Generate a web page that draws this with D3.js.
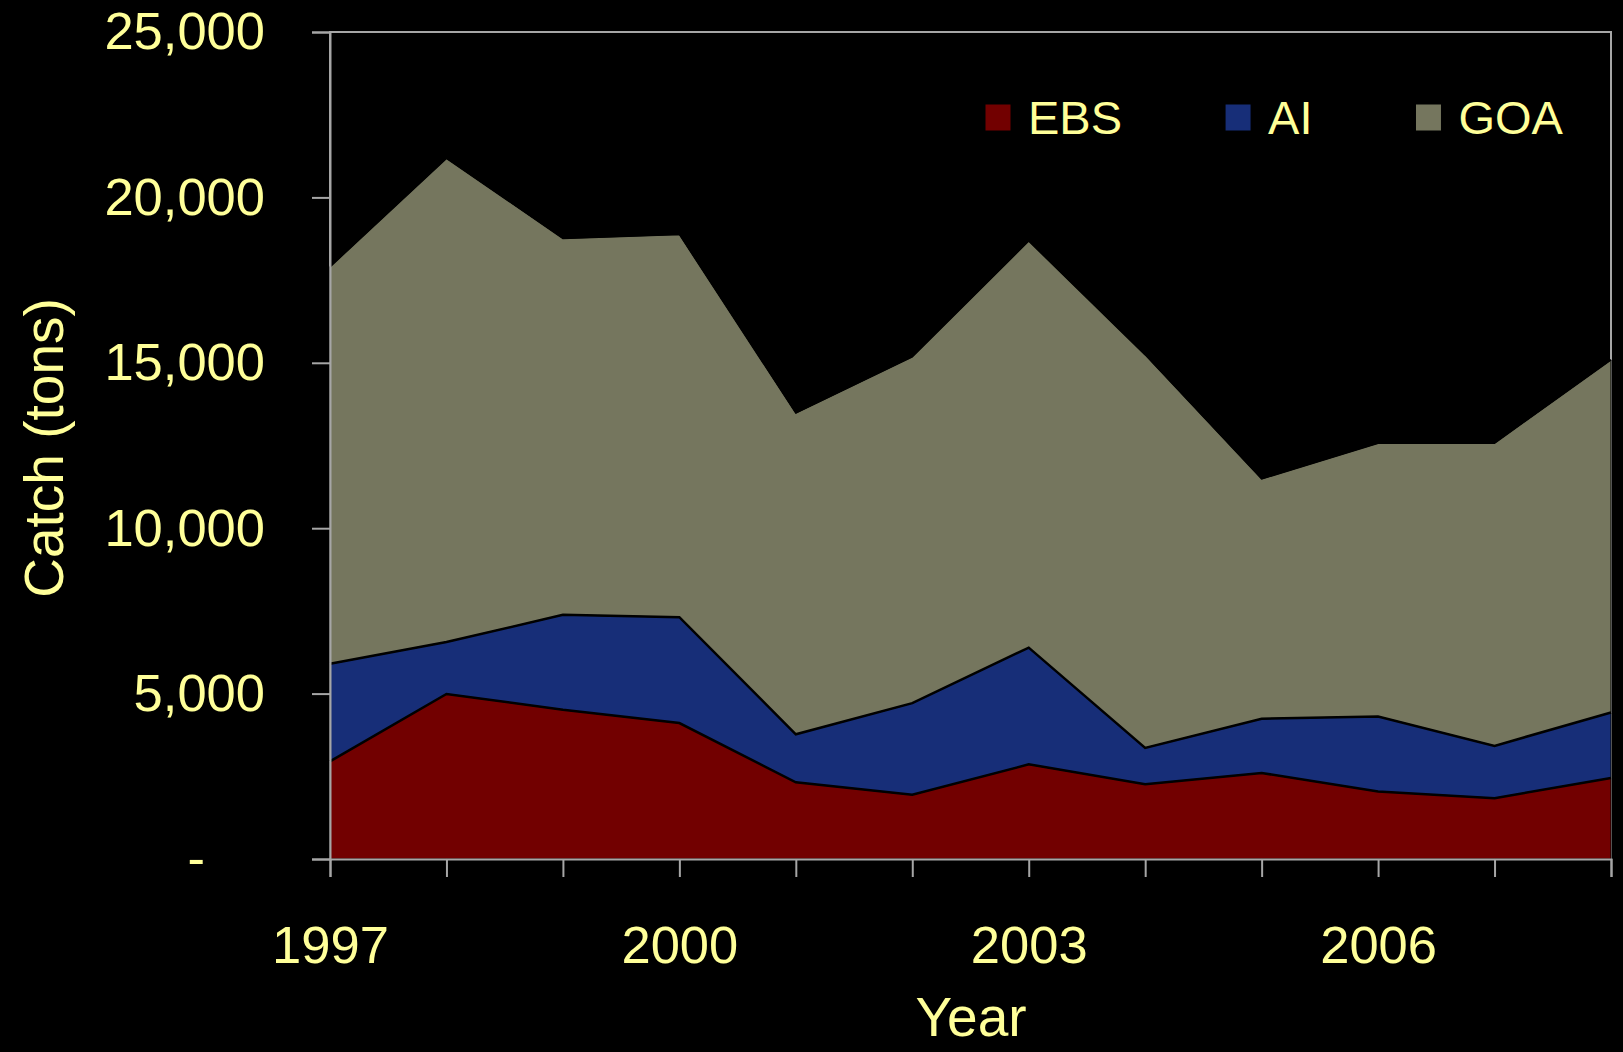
<!DOCTYPE html>
<html>
<head>
<meta charset="utf-8">
<script src="https://cdn.jsdelivr.net/npm/d3@7"></script>
<style>
  body { margin: 0; background: #000; }
  text { font-family: "Liberation Sans", Arial, sans-serif; fill: #ffff99; }
</style>
</head>
<body>
<div class="chart"></div>
<script>
// catch by region, tons
var years = [1997, 1998, 1999, 2000, 2001, 2002, 2003, 2004, 2005, 2006, 2007, 2008];
var ebs = [2950, 4990, 4510, 4110, 2320, 1940, 2860, 2260, 2600, 2040, 1840, 2450];
var ai  = [2950, 1570, 2870, 3200, 1450, 2770, 3530, 1100, 1640, 2270, 1580, 1980];
var goa = [12000, 14620, 11380, 11570, 9710, 10470, 12290, 11880, 7250, 8260, 9150, 10660];
var seriesNames = ["EBS", "AI", "GOA"];
var yTicks = [0, 5000, 10000, 15000, 20000, 25000];
var yearLabels = [1997, 2000, 2003, 2006];

var colors = {EBS: "#720000", AI: "#172e78", GOA: "#75765e"};

var w = 1623, h = 1052;
// plot box (window.top is reserved, so no plain "top" here)
var pLeft = 330, pRight = 1611, pTop = 32, pBottom = 859;

var svg = d3.select(".chart").append("svg")
    .attr("width", w)
    .attr("height", h);

svg.append("rect").attr("width", w).attr("height", h).attr("fill", "#000");

var x = d3.scaleLinear().domain([1997, 2008]).range([pLeft, pRight]);
var y = d3.scaleLinear().domain([0, 25000]).range([pBottom, pTop]);

var table = years.map(function(yr, i){
    return {year: yr, EBS: ebs[i], AI: ai[i], GOA: goa[i]};
});
var stacked = d3.stack().keys(seriesNames)(table);

// plot border
svg.append("rect")
    .attr("x", pLeft).attr("y", pTop)
    .attr("width", pRight - pLeft).attr("height", pBottom - pTop)
    .attr("fill", "none")
    .attr("stroke", "#a6a6a6")
    .attr("stroke-width", 2);

var area = d3.area()
    .x(function(d){ return x(d.data.year); })
    .y0(function(d){ return y(d[0]); })
    .y1(function(d){ return y(d[1]); });

svg.selectAll(".layer")
    .data(stacked)
    .enter()
    .append("path")
    .attr("class", "layer")
    .attr("d", area)
    .attr("fill", function(d){ return colors[d.key]; })
    .attr("stroke", "#000")
    .attr("stroke-width", 1);

var topLine = d3.line()
    .x(function(d){ return x(d.data.year); })
    .y(function(d){ return y(d[1]); });

svg.selectAll(".edge")
    .data(stacked)
    .enter()
    .append("path")
    .attr("class", "edge")
    .attr("d", topLine)
    .attr("fill", "none")
    .attr("stroke", "#000")
    .attr("stroke-width", function(d){ return d.key == "GOA" ? 1.5 : 2.5; });

// axes
var yAxis = d3.axisLeft(y)
    .tickValues(yTicks)
    .tickSize(18)
    .tickPadding(47)
    .tickFormat(function(d){ return d === 0 ? "-" : d3.format(",")(d); });

var gy = svg.append("g")
    .attr("transform", `translate(${pLeft},0)`)
    .call(yAxis);

var xAxis = d3.axisBottom(x)
    .tickValues(years)
    .tickSize(18)
    .tickPadding(49)
    .tickFormat(function(d){ return yearLabels.indexOf(d) >= 0 ? d : ""; });

var gx = svg.append("g")
    .attr("transform", `translate(0,${pBottom})`)
    .call(xAxis);

[gx, gy].forEach(function(g){
    g.select(".domain").attr("stroke", "#a6a6a6").attr("stroke-width", 2);
    g.selectAll(".tick line").attr("stroke", "#a6a6a6").attr("stroke-width", 2);
    g.selectAll(".tick text")
        .attr("fill", "#ffff99")
        .style("font-size", "52.5px")
        .style("font-family", "'Liberation Sans', Arial, sans-serif");
});
// the zero label is an accounting dash, set further left
gy.selectAll(".tick text").filter(function(d){ return d === 0; }).attr("dx", -60);

// axis titles
svg.append("text")
    .attr("x", 971).attr("y", 1036)
    .attr("text-anchor", "middle")
    .style("font-size", "55px")
    .text("Year");

svg.append("text")
    .attr("transform", "translate(63,448) rotate(-90)")
    .attr("text-anchor", "middle")
    .style("font-size", "55px")
    .text("Catch (tons)");

// legend
var lx = 985;
seriesNames.forEach(function(name){
    var g = svg.append("g").attr("transform", `translate(${lx},0)`);
    g.append("rect")
        .attr("x", 0).attr("y", 104)
        .attr("width", 26).attr("height", 27)
        .attr("fill", colors[name])
        .attr("stroke", "#000")
        .attr("stroke-width", 1);
    var t = g.append("text")
        .attr("x", 43).attr("y", 134)
        .style("font-size", "47px")
        .text(name);
    lx += 43 + t.node().getComputedTextLength() + 103;
});
</script>
</body>
</html>
